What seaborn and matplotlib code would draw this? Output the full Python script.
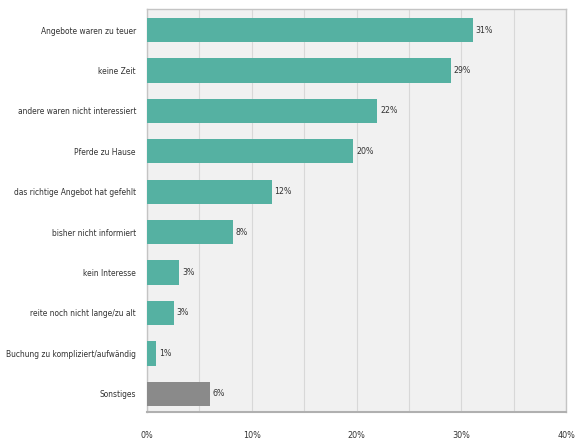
import matplotlib
matplotlib.use("Agg")
import matplotlib.pyplot as plt
import seaborn as sns
import pandas as pd

categories = [
    "Angebote waren zu teuer",
    "keine Zeit",
    "andere waren nicht interessiert",
    "Pferde zu Hause",
    "das richtige Angebot hat gefehlt",
    "bisher nicht informiert",
    "kein Interesse",
    "reite noch nicht lange/zu alt",
    "Buchung zu kompliziert/aufwändig",
    "Sonstiges",
]
values = [31.1, 29.0, 22.0, 19.7, 11.9, 8.2, 3.1, 2.6, 0.9, 6.0]
value_labels = ["31%", "29%", "22%", "20%", "12%", "8%", "3%", "3%", "1%", "6%"]
x_ticks = [0, 10, 20, 30, 40]
x_tick_labels = ["0%", "10%", "20%", "30%", "40%"]

teal = "#55b1a2"
grey = "#8a8a8a"
colors = [teal] * 9 + [grey]

sns.set_style("white")
plt.rcParams["font.family"] = ["DejaVu Sans"]
plt.rcParams["font.stretch"] = "condensed"

df = pd.DataFrame({"cat": categories, "val": values})

fig = plt.figure(figsize=(5.76, 4.42), dpi=100)
ax = fig.add_axes([147 / 576, 1 - 412 / 442, (566 - 147) / 576, (412 - 9) / 442])
ax.set_facecolor("#f1f1f1")

sns.barplot(data=df, x="val", y="cat", hue="cat", palette=colors, legend=False,
            width=0.6, ax=ax, saturation=1, linewidth=0, zorder=3)

fs = 6.0
for i, (v, lab) in enumerate(zip(values, value_labels)):
    ax.text(v + 0.25, i, lab, va="center", ha="left", fontsize=fs + 0.3, color="#333333",
            fontstretch="condensed")

ax.set_xlim(0, 40)
ax.set_ylim(9.45, -0.52)
ax.set_xticks(x_ticks)
ax.set_xticklabels(x_tick_labels, fontsize=fs + 0.5, color="#333333", fontstretch="condensed")
ax.set_xticks([5, 15, 25, 35], minor=True)
ax.xaxis.grid(True, which="both", color="#d8d8d8", linewidth=0.8)
ax.set_axisbelow(True)
ax.tick_params(axis="x", which="both", length=0, pad=14)
ax.set_yticks([i + 0.5 for i in range(9)], minor=True)
ax.tick_params(axis="y", which="major", length=0, pad=8, labelsize=fs, labelcolor="#333333")
ax.tick_params(axis="y", which="minor", length=3, width=0.8, color="#a0a0a0", direction="out")
for t in ax.get_yticklabels():
    t.set_fontstretch("condensed")
ax.set_xlabel("")
ax.set_ylabel("")
for s in ax.spines.values():
    s.set_visible(True)
    s.set_color("#c4c4c4")
    s.set_linewidth(1.0)
ax.spines["bottom"].set_color("#b0b0b0")
ax.spines["bottom"].set_linewidth(1.5)

fig.savefig("out.png", dpi=100)
